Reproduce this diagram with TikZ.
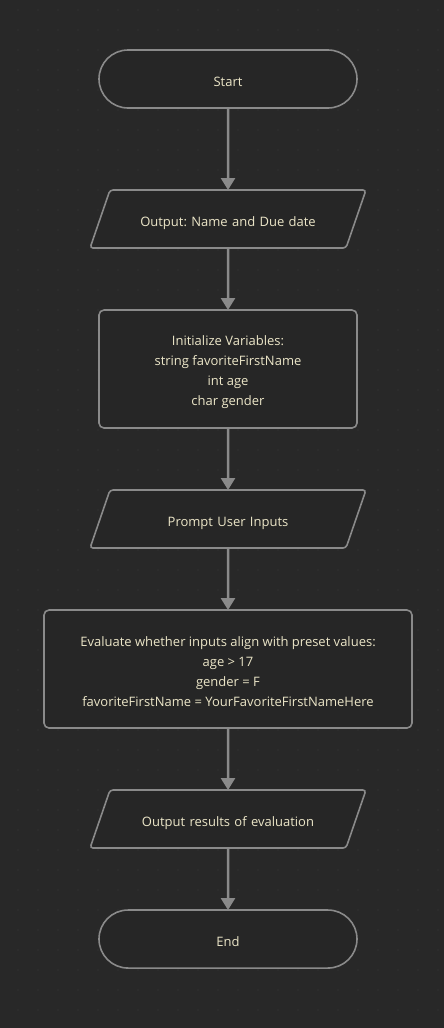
\documentclass[tikz,border=0pt]{standalone}
\usepackage{fontspec}
\setmainfont{Open Sans}
\frenchspacing
\usetikzlibrary{shapes.geometric,arrows.meta,positioning}
\definecolor{bgcol}{HTML}{282828}
\definecolor{dotcol}{HTML}{323232}
\definecolor{nodecol}{HTML}{262626}
\definecolor{linecol}{HTML}{8A8A8A}
\definecolor{txtcol}{HTML}{ECE6C8}
\newcommand{\topstrut}{\rule{0pt}{16pt}}
\tikzset{
terminal/.style = {draw=linecol, fill=nodecol, rectangle, rounded corners=29pt, line width=1.6pt, outer sep=0pt, text height=14pt, text depth=0pt, minimum width=258pt, minimum height=58pt},
io/.style = {draw=linecol, fill=nodecol, trapezium, trapezium left angle=71, trapezium right angle=109, line width=1.6pt, outer sep=0pt, text width=220pt, inner xsep=8pt, text height=14pt, text depth=0pt, inner ysep=22pt, align=center, rounded corners=3pt},
process/.style = {draw=linecol, fill=nodecol, rectangle, rounded corners=5pt, line width=1.6pt, outer sep=0pt, align=center, minimum height=118pt},
flow/.style = {draw=linecol, line width=2.5pt, -{Triangle[width=14pt,length=12pt]}},
}
\begin{document}
\begin{tikzpicture}[x=1pt, y=-1pt, node distance=62pt, font=\fontsize{13pt}{20pt}\selectfont, text=txtcol]
    % background and dot grid
    \fill[bgcol] (0,0) rectangle (444,1028);
    \useasboundingbox (0,0) rectangle (444,1028);
    \foreach \x in {18,38,...,438}
      \foreach \y in {10,30,...,1010}
        \fill[dotcol] (\x,\y) circle (0.8pt);

    \node [terminal] (start) at (228,79) {Start};
    \node [io, below=82pt of start] (showname) {Output: Name and Due date};
    \node [process, below=of showname, minimum width=258pt] (init)
       {\topstrut Initialize Variables:\\string favoriteFirstName\\int age\\char gender};
    \node [io, below=of init] (prompt) {Prompt User Inputs};
    \node [process, below=of prompt, minimum width=368pt] (check)
       {\topstrut Evaluate whether inputs align with preset values:\\age > 17\\gender = F\\favoriteFirstName = YourFavoriteFirstNameHere};
    \node [io, below=of check] (results) {Output results of evaluation};
    \node [terminal, below=of results] (end) {End};

    \draw [flow] (start) -- (showname);
    \draw [flow] (showname) -- (init);
    \draw [flow] (init) -- (prompt);
    \draw [flow] (prompt) -- (check);
    \draw [flow] (check) -- (results);
    \draw [flow] (results) -- (end);
\end{tikzpicture}
\end{document}
